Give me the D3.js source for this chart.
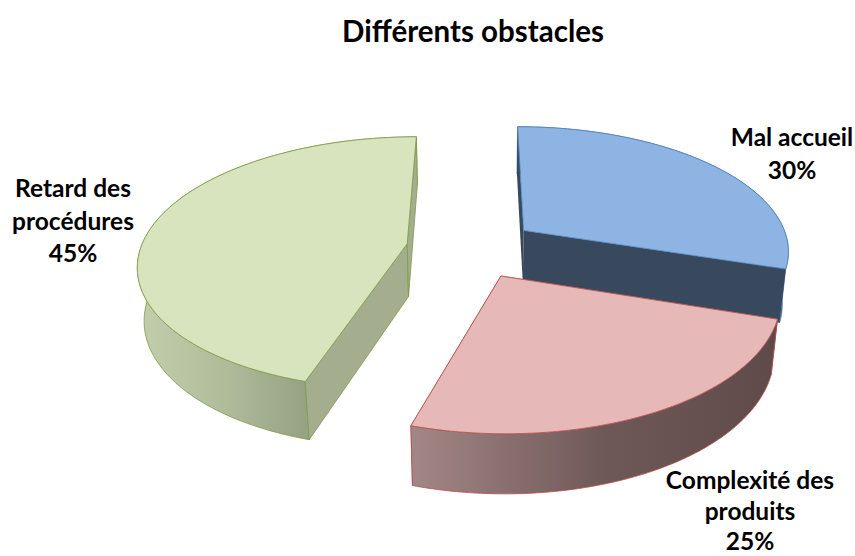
<!DOCTYPE html>
<html><head><meta charset="utf-8">
<script src="https://cdn.jsdelivr.net/npm/d3@7"></script>
<style>html,body{margin:0;background:#fff}svg{display:block}text{font-family:Lato,sans-serif;font-weight:700;fill:#000}</style>
</head><body><div id="c"></div>
<script>
const categories = ["Mal accueil", "Complexité des produits", "Retard des procédures"];
const values = [30, 24.7, 45.3];
const labelLines = [["Mal accueil","30%"],["Complexité des","produits","25%"],["Retard des","procédures","45%"]];
const chartTitle = "Différents obstacles";
const offsetX = [0.179, 0.087, -0.2634];
const offsetY = [0.16, -0.2016, 0.05];
const topColors = ["#8EB4E3","#E6B9B8","#D7E4BD"];
const edgeColors = ["#4F81BD","#B5524F","#7F9A48"];
const innerColors = ["#38495E","#5E4A48","#A4AE8E"];
const sideStops = [["#38495E","#38495E","#38495E"],["#A38786","#6F5958","#5E4A48"],["#C2CEAB","#B0BB9A","#97A283"]];
const labelX = [792,750,73], labelY = [146,489,197];
const labelGap = [32.5,30.5,32.5];

const W=855,H=556;
const cx=477, cy=250, R=267, Rk=125, p=0.152, q=0.02, D=54;
const svg=d3.select("#c").append("svg").attr("width",W).attr("height",H);
const defs=svg.append("defs");
const arcs=d3.pie().sort(null)(values);
const project=(i,r,a,z)=>{
  const X=offsetX[i]+r*Math.sin(a);
  const Y=offsetY[i]+r*Math.cos(a);
  const w=1+p*Y+q*z;
  return [cx+R*X/w, cy+(-Rk*Y+D*z)/w];
};
const line=d3.line();
const spanX=[[770,800],[410,780],[140,305]];
const rimFirst=[true,false,true];
[2,0,1].forEach(i=>{
  const d=arcs[i];
  const g=svg.append("g");
  const angles=d3.range(0,121).map(t=>d.startAngle+(d.endAngle-d.startAngle)*t/120);
  const rimTop=angles.map(a=>project(i,1,a,0));
  const rimBot=angles.map(a=>project(i,1,a,1));
  const grad=defs.append("linearGradient").attr("id","side"+i).attr("gradientUnits","userSpaceOnUse")
    .attr("x1",spanX[i][0]).attr("x2",spanX[i][1]).attr("y1",0).attr("y2",0);
  [0,0.52,1].forEach((o,k)=>grad.append("stop").attr("offset",o).attr("stop-color",sideStops[i][k]));
  const drawRim=()=>g.append("path").attr("d",line(rimTop.concat(rimBot.slice().reverse()))+"Z")
   .attr("fill",`url(#side${i})`).attr("stroke",edgeColors[i]).attr("stroke-width",0.8);
  const wall=(a)=>[project(i,0,a,0),project(i,1,a,0),project(i,1,a,1),project(i,0,a,1)];
  const drawWalls=()=>[d.startAngle,d.endAngle].forEach(a=>{
    g.append("path").attr("d",line(wall(a))+"Z").attr("fill",innerColors[i])
     .attr("stroke",i===0?"none":edgeColors[i]).attr("stroke-width",0.8).attr("stroke-linejoin","round");
  });
  if(rimFirst[i]){drawRim();drawWalls();}else{drawWalls();drawRim();}
  const top=[project(i,0,d.startAngle,0)].concat(rimTop);
  g.append("path").attr("d",line(top)+"Z").attr("fill",topColors[i])
   .attr("stroke",edgeColors[i]).attr("stroke-width",0.8).attr("stroke-linejoin","round");
});
svg.append("text").attr("x",473).attr("y",42).attr("text-anchor","middle").attr("font-size",29.5).text(chartTitle);
labelLines.forEach((ls,i)=>{
  const t=svg.append("text").attr("text-anchor","middle").attr("font-size",24.5);
  ls.forEach((s,j)=>t.append("tspan").attr("x",labelX[i]).attr("y",labelY[i]+j*labelGap[i]).text(s));
});
</script></body></html>
